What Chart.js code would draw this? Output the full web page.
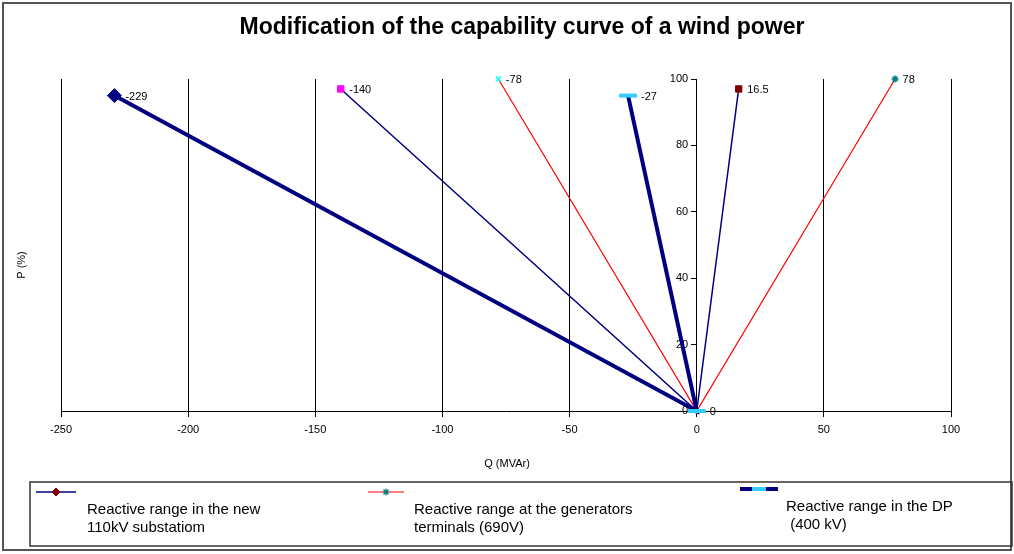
<!DOCTYPE html>
<html>
<head>
<meta charset="utf-8">
<title>Capability curve</title>
<script src="https://cdn.jsdelivr.net/npm/chart.js@4.4.0/dist/chart.umd.min.js"></script>
<style>
  html, body { margin: 0; padding: 0; background: #fff; }
  #contenedor { width: 1014px; height: 554px; position: relative; }
</style>
</head>
<body>
<div id="contenedor"><canvas id="graficoCapacidad"></canvas></div>
<script>
// datos
const titulo = 'Modification of the capability curve of a wind power';
const tituloX = 'Q (MVAr)';
const tituloY = 'P (%)';

const nombreSubestacion = ['Reactive range in the new', '110kV substatiom'];
const nombreGeneradores = ['Reactive range at the generators', 'terminals (690V)'];
const nombreDP = ['Reactive range in the DP', ' (400 kV)'];

const qSubestacion = [-140, 0, 16.5];
const pSubestacion = [97, 0, 97];
const qGeneradores = [-78, 0, 78];
const pGeneradores = [100, 0, 100];
const qDP = [-229, 0, -27];
const pDP = [95, 0, 95];

const ticksQ = [-250, -200, -150, -100, -50, 0, 50, 100];
const ticksP = [0, 20, 40, 60, 80, 100];

const FUENTE = 'Liberation Sans, Arial, sans-serif';

function puntos(q, p) {
  return q.map((v, i) => ({ x: v, y: p[i] }));
}

// estilos de leyenda (linea + marcador)
const marcadorLeyenda = [
  { pointStyle: 'rectRot', radius: 4, fill: '#800000', stroke: '#800000', bw: 1 },
  { pointStyle: 'star', radius: 3.5, fill: '#008080', stroke: '#008080', bw: 1.2 },
  { pointStyle: 'line', radius: 7, fill: '#33CCFF', stroke: '#33CCFF', bw: 4 }
];

// etiquetas de datos, leyenda, titulos y marco
const textosPlugin = {
  id: 'textosPlugin',
  afterDatasetsDraw(chart) {
    const ctx = chart.ctx;
    ctx.save();
    ctx.font = '11px ' + FUENTE;
    ctx.fillStyle = '#000';
    ctx.textAlign = 'left';
    ctx.textBaseline = 'middle';
    const hechos = new Set();
    // del ultimo al primero, sin repetir la etiqueta del origen
    for (let i = chart.data.datasets.length - 1; i >= 0; i--) {
      const ds = chart.data.datasets[i];
      const meta = chart.getDatasetMeta(i);
      meta.data.forEach((el, j) => {
        const clave = Math.round(el.x) + ',' + Math.round(el.y);
        if (hechos.has(clave)) return;
        hechos.add(clave);
        const r = Array.isArray(ds.pointRadius) ? ds.pointRadius[j] : ds.pointRadius;
        ctx.fillText(String(ds.data[j].x), el.x + r + 4, el.y + 1);
      });
    }
    ctx.restore();
  },
  afterDraw(chart) {
    const ctx = chart.ctx;
    ctx.save();

    // marco exterior
    ctx.strokeStyle = '#555';
    ctx.lineWidth = 2;
    ctx.strokeRect(3, 3, 1008, 547);

    // titulo
    ctx.fillStyle = '#000';
    ctx.font = 'bold 23px ' + FUENTE;
    ctx.textAlign = 'center';
    ctx.textBaseline = 'middle';
    ctx.fillText(titulo, 522, 28);

    // titulos de ejes
    ctx.font = '11px ' + FUENTE;
    ctx.fillText(tituloX, 507, 464);
    ctx.save();
    ctx.translate(22, 265);
    ctx.rotate(-Math.PI / 2);
    ctx.fillText(tituloY, 0, 0);
    ctx.restore();

    // leyenda
    ctx.strokeStyle = '#333';
    ctx.lineWidth = 1.5;
    ctx.strokeRect(30, 482, 982, 64);

    const items = [
      { x0: 36, x1: 76, y: 492, tx: 87, ty: 510 },
      { x0: 368, x1: 404, y: 492, tx: 414, ty: 510 },
      { x0: 740, x1: 778, y: 489, tx: 786, ty: 507 }
    ];
    chart.data.datasets.forEach((ds, i) => {
      const it = items[i];
      ctx.strokeStyle = ds.borderColor;
      ctx.lineWidth = ds.borderWidth;
      ctx.beginPath();
      ctx.moveTo(it.x0, it.y);
      ctx.lineTo(it.x1, it.y);
      ctx.stroke();
      const m = marcadorLeyenda[i];
      ctx.fillStyle = m.fill;
      ctx.strokeStyle = m.stroke;
      ctx.lineWidth = m.bw;
      Chart.helpers.drawPoint(ctx, { pointStyle: m.pointStyle, radius: m.radius, rotation: 0, borderWidth: m.bw },
        (it.x0 + it.x1) / 2, it.y);
      ctx.fillStyle = '#000';
      ctx.font = '15px ' + FUENTE;
      ctx.textAlign = 'left';
      ctx.textBaseline = 'middle';
      ds.lineas.forEach((t, k) => ctx.fillText(t, it.tx, it.ty + k * 18));
    });

    ctx.restore();
  }
};

const ctx = document.getElementById('graficoCapacidad');

new Chart(ctx, {
  type: 'scatter',
  data: {
    datasets: [
      {
        label: nombreSubestacion.join(' '),
        lineas: nombreSubestacion,
        data: puntos(qSubestacion, pSubestacion),
        showLine: true,
        borderColor: '#000080',
        borderWidth: 1.5,
        pointStyle: ['rect', 'rect', 'rect'],
        pointRadius: [4.5, 2, 4.5],
        pointBackgroundColor: ['#FF00FF', '#FF00FF', '#800000'],
        pointBorderColor: ['#FF00FF', '#FF00FF', '#800000'],
        pointBorderWidth: 1,
        clip: false,
        order: 3
      },
      {
        label: nombreGeneradores.join(' '),
        lineas: nombreGeneradores,
        data: puntos(qGeneradores, pGeneradores),
        showLine: true,
        borderColor: '#FF0000',
        borderWidth: 1.2,
        pointStyle: ['crossRot', 'star', 'star'],
        pointRadius: [3.5, 3, 3.5],
        pointBackgroundColor: ['#00FFFF', '#008080', '#008080'],
        pointBorderColor: ['#00FFFF', '#008080', '#008080'],
        pointBorderWidth: 1.5,
        clip: false,
        order: 2
      },
      {
        label: nombreDP.join(' '),
        lineas: nombreDP,
        data: puntos(qDP, pDP),
        showLine: true,
        borderColor: '#000080',
        borderWidth: 4,
        pointStyle: ['rectRot', 'line', 'line'],
        pointRadius: [7, 9, 9],
        pointBackgroundColor: ['#000080', '#33CCFF', '#33CCFF'],
        pointBorderColor: ['#000080', '#33CCFF', '#33CCFF'],
        pointBorderWidth: [1, 4, 4],
        clip: false,
        order: 1
      }
    ]
  },
  options: {
    responsive: true,
    maintainAspectRatio: false,
    animation: false,
    layout: {
      padding: { left: 61, right: 63, top: 79, bottom: 143 }
    },
    plugins: {
      legend: { display: false },
      title: { display: false },
      tooltip: { enabled: false }
    },
    scales: {
      x: {
        type: 'linear',
        min: ticksQ[0],
        max: ticksQ[ticksQ.length - 1],
        position: { y: 0 },
        afterBuildTicks: (escala) => { escala.ticks = ticksQ.map(v => ({ value: v })); },
        ticks: {
          color: '#000',
          font: { family: FUENTE, size: 11 },
          padding: 7,
          maxRotation: 0
        },
        grid: {
          color: '#000',
          lineWidth: 1,
          tickLength: 5,
          drawOnChartArea: true
        },
        border: { color: '#000', width: 1 }
      },
      y: {
        type: 'linear',
        min: ticksP[0],
        max: ticksP[ticksP.length - 1],
        position: { x: 0 },
        afterBuildTicks: (escala) => { escala.ticks = ticksP.map(v => ({ value: v })); },
        ticks: {
          color: '#000',
          font: { family: FUENTE, size: 11 },
          padding: 3,
          // la etiqueta queda a la izquierda del eje
          callback: (v) => v + '\u2002 '
        },
        grid: {
          color: '#000',
          drawOnChartArea: false,
          tickLength: 5
        },
        border: { color: '#000', width: 1 }
      }
    }
  },
  plugins: [textosPlugin]
});
</script>
</body>
</html>
